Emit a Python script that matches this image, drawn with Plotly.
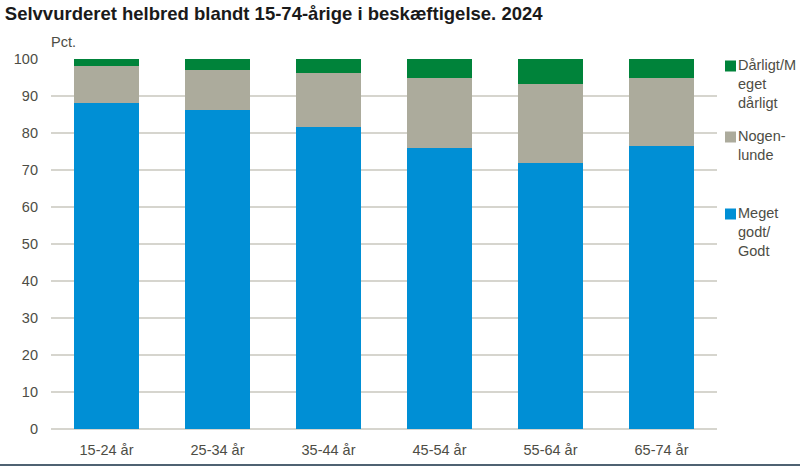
import plotly.graph_objects as go

categories = ["15-24 år", "25-34 år", "35-44 år", "45-54 år", "55-64 år", "65-74 år"]
godt = [88.2, 86.1, 81.5, 76.0, 72.0, 76.5]
nogenlunde = [9.8, 11.0, 14.7, 18.8, 21.2, 18.3]
daarligt = [2.0, 2.9, 3.8, 5.2, 6.8, 5.2]
series_names = ["Meget<br>godt/<br>Godt", "Nogen-<br>lunde", "Dårligt/M<br>eget<br>dårligt"]
colors = ["#008FD5", "#ACAB9C", "#00833A"]
yticks = [0, 10, 20, 30, 40, 50, 60, 70, 80, 90, 100]

# plot area in pixels
L, R, T, B = 51, 717, 59, 429
W, H = R - L, B - T

def px(x):
    return (x - L) / W

def py(y):
    return (B - y) / H

fig = go.Figure()
for name, vals, col in zip(series_names, [godt, nogenlunde, daarligt], colors):
    fig.add_trace(go.Bar(x=categories, y=vals, name=name, marker=dict(color=col, line=dict(width=0)),
                         showlegend=False))

fontfam = "Liberation Sans, Arial, sans-serif"
tickfont = dict(family=fontfam, size=14.5, color="#4d4d45")

fig.update_layout(
    barmode="stack",
    bargap=0.41,
    width=800, height=467,
    margin=dict(l=L, r=800 - R, t=T, b=467 - B, autoexpand=False),
    plot_bgcolor="white", paper_bgcolor="white",
    title=dict(text="<b>Selvvurderet helbred blandt 15-74-årige i beskæftigelse. 2024</b>",
               x=0.006, xanchor="left", y=0.97, yanchor="middle",
               font=dict(family=fontfam, size=18.5, color="#1a1a1a")),
    xaxis=dict(tickfont=tickfont, showgrid=False, showline=False, ticks="", ticklabelstandoff=10,
               automargin=False),
    yaxis=dict(range=[0, 100], tickvals=yticks, tickfont=tickfont, showgrid=True,
               gridcolor="#D6D5CE", gridwidth=1.5, zeroline=True, zerolinecolor="#D6D5CE", zerolinewidth=1.5,
               ticks="", ticklabelstandoff=12, automargin=False),
    showlegend=False,
)

fig.add_annotation(text="Pct.", xref="paper", yref="paper", x=px(49), y=py(42), xanchor="left", yanchor="middle",
                   showarrow=False, font=dict(family=fontfam, size=14.5, color="#4d4d45"))

# custom legend (top to bottom: green, gray, blue)
legend_items = [(series_names[2], colors[2], 66), (series_names[1], colors[1], 137), (series_names[0], colors[0], 214)]
for text, col, cy in legend_items:
    fig.add_shape(type="rect", xref="paper", yref="paper", x0=px(725), x1=px(736), y0=py(cy - 5.5), y1=py(cy + 5.5),
                  fillcolor=col, line=dict(width=0))
    fig.add_annotation(text=text, xref="paper", yref="paper", x=px(736), y=py(cy - 11), xanchor="left", yanchor="top",
                       align="left", showarrow=False,
                       font=dict(family=fontfam, size=14.5, color="#4d4d45"))

fig.add_shape(type="line", xref="paper", yref="paper", x0=px(0), x1=px(800), y0=py(465), y1=py(465),
              line=dict(color="#4F6272", width=2))

fig.write_html("out.html", config={"displayModeBar": False},
               post_script="document.body.style.margin='0';document.body.style.padding='0';")
